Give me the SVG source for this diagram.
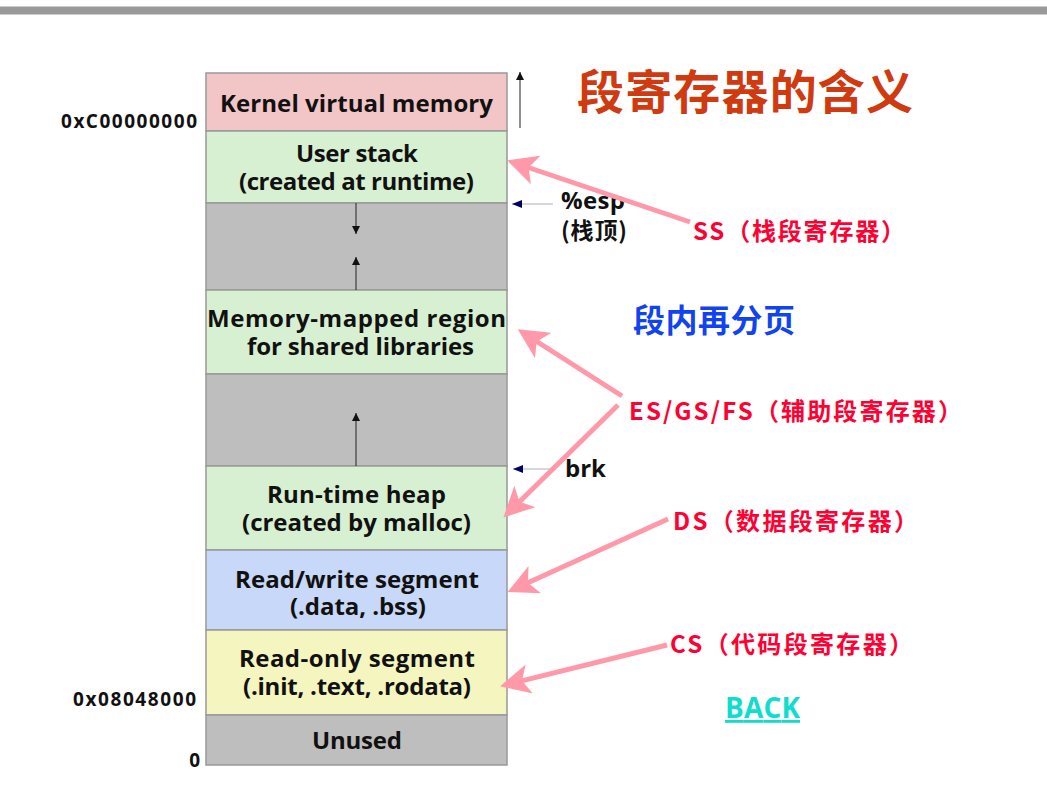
<svg xmlns="http://www.w3.org/2000/svg" width="1047" height="786" viewBox="0 0 1047 786">
<defs>
<style>
.t{font-family:"Open Sans","Noto Sans","Noto Sans CJK SC",sans-serif;font-weight:bold;fill:#111;}
.seg{font-size:24px;text-anchor:middle;}
.addr{font-size:19px;text-anchor:end;}
.red{font-family:"Noto Sans CJK SC","Open Sans",sans-serif;font-weight:bold;fill:#FF0033;font-size:24px;}
.pk{stroke:#FF99AA;stroke-width:5;fill:none;}
.nv{stroke:#C8C8D8;stroke-width:1.5;fill:none;}
.bk{stroke:#222;stroke-width:1;fill:none;}
.box{stroke:#999;stroke-width:1.5;}
</style>
<marker id="pa" markerWidth="6" markerHeight="6" refX="5" refY="3" orient="auto" markerUnits="strokeWidth"><path d="M0,0 L6,3 L0,6 L1.5,3 z" fill="#FF99AA"/></marker>
<marker id="na" markerWidth="10" markerHeight="8" refX="10" refY="4" orient="auto" markerUnits="userSpaceOnUse"><path d="M0,0 L10,4 L0,8 z" fill="#000066"/></marker>
<marker id="ba" markerWidth="8" markerHeight="10" refX="8" refY="4" orient="auto" markerUnits="userSpaceOnUse"><path d="M0,0 L8,4 L0,8 z" fill="#111"/></marker>
</defs>
<rect x="0" y="6" width="1047" height="9" fill="#999"/>
<rect x="0" y="6" width="1047" height="1" fill="#ccc"/>
<rect x="0" y="14" width="1047" height="1" fill="#ccc"/>

<g id="kernel"><rect class="box" x="206" y="73" width="301" height="58" fill="#F2C6C6"/><text class="t seg" x="356.5" y="112" textLength="273">Kernel virtual memory</text></g>
<g id="userstack"><rect class="box" x="206" y="131" width="301" height="72" fill="#D8F0D2"/><text class="t seg" x="357" y="162" textLength="122">User stack</text><text class="t seg" x="356.5" y="190" textLength="235">(created at runtime)</text></g>
<g id="gap1"><rect class="box" x="206" y="203" width="301" height="87" fill="#BEBEBE"/></g>
<g id="mmap"><rect class="box" x="206" y="290" width="301" height="84" fill="#D8F0D2"/><text class="t seg" x="356.5" y="327" textLength="299">Memory-mapped region</text><text class="t seg" x="360.5" y="355" textLength="227">for shared libraries</text></g>
<g id="gap2"><rect class="box" x="206" y="374" width="301" height="92" fill="#BEBEBE"/></g>
<g id="heap"><rect class="box" x="206" y="466" width="301" height="84" fill="#D8F0D2"/><text class="t seg" x="356.5" y="503" textLength="179">Run-time heap</text><text class="t seg" x="356.5" y="531" textLength="229">(created by malloc)</text></g>
<g id="rw"><rect class="box" x="206" y="550" width="301" height="80" fill="#C8D8F8"/><text class="t seg" x="357" y="588" textLength="244">Read/write segment</text><text class="t seg" x="358" y="615" textLength="136">(.data, .bss)</text></g>
<g id="ro"><rect class="box" x="206" y="630" width="301" height="85" fill="#F5F5C0"/><text class="t seg" x="357" y="667" textLength="236">Read-only segment</text><text class="t seg" x="357" y="695" textLength="228">(.init, .text, .rodata)</text></g>
<g id="unused"><rect class="box" x="206" y="715" width="301" height="50" fill="#BEBEBE"/><text class="t seg" x="357" y="749" textLength="90">Unused</text></g>

<g id="labels">
<text class="t addr" x="197" y="128" textLength="136">0xC00000000</text>
<text class="t addr" x="196" y="706" textLength="123">0x08048000</text>
<text class="t addr" x="200" y="767">0</text>
<text class="t" x="561" y="209" font-size="24" textLength="64">%esp</text>
<text class="t" x="561" y="239" font-size="23" textLength="66" style="font-family:'Noto Sans CJK SC',sans-serif">(栈顶)</text>
<text class="t" x="565" y="477" font-size="24" textLength="41">brk</text>
<text style="font-family:'Noto Sans CJK SC',sans-serif;font-weight:bold;font-size:47px;fill:#D03A10" x="577" y="109" textLength="336">段寄存器的含义</text>
<text style="font-family:'Noto Sans CJK SC',sans-serif;font-weight:bold;font-size:32px;fill:#1144EE" x="633" y="332" textLength="162">段内再分页</text>
<text class="red" x="693" y="240" textLength="212">SS（栈段寄存器）</text>
<text class="red" x="629" y="420" textLength="333">ES/GS/FS（辅助段寄存器）</text>
<text class="red" x="673" y="530" textLength="245">DS（数据段寄存器）</text>
<text class="red" x="670" y="653" textLength="243">CS（代码段寄存器）</text>
<text style="font-family:'Open Sans',sans-serif;font-weight:bold;font-size:28px;fill:#11DDCC;text-decoration:underline" x="725" y="718" textLength="75">BACK</text>
</g>

<g id="connectors">
<line class="bk" x1="520" y1="128" x2="520" y2="72" marker-end="url(#ba)"/>
<line class="bk" x1="356" y1="203" x2="356" y2="234" marker-end="url(#ba)"/>
<line class="bk" x1="356" y1="290" x2="356" y2="257" marker-end="url(#ba)"/>
<line class="bk" x1="356" y1="466" x2="356" y2="413" marker-end="url(#ba)"/>
<line class="nv" x1="553" y1="204" x2="512" y2="204" marker-end="url(#na)"/>
<line class="nv" x1="550" y1="469" x2="513" y2="469" marker-end="url(#na)"/>
<line class="pk" x1="690" y1="222" x2="512" y2="162" marker-end="url(#pa)"/>
<line class="pk" x1="622" y1="396" x2="522" y2="332" marker-end="url(#pa)"/>
<line class="pk" x1="618" y1="405" x2="507" y2="514" marker-end="url(#pa)"/>
<line class="pk" x1="668" y1="519" x2="512" y2="590" marker-end="url(#pa)"/>
<line class="pk" x1="667" y1="645" x2="505" y2="685" marker-end="url(#pa)"/>
</g>
</svg>
